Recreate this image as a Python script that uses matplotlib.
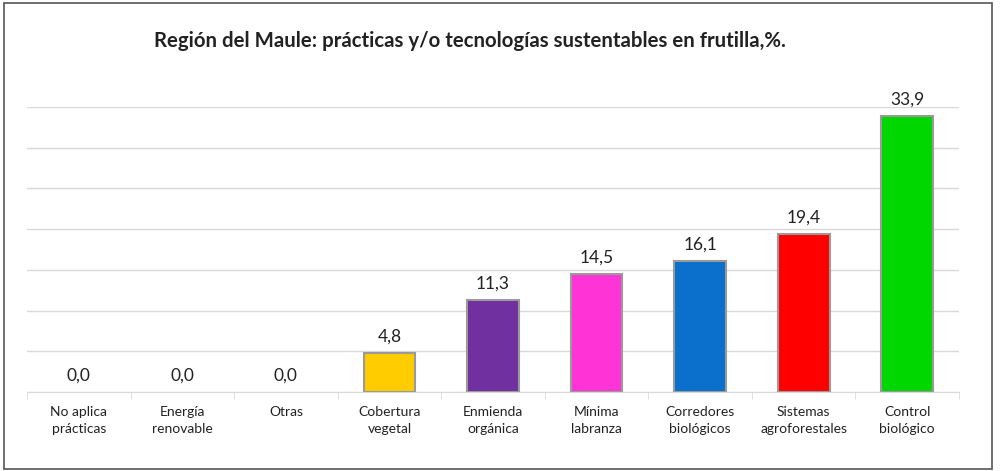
import matplotlib.pyplot as plt
from matplotlib.patches import Rectangle
import numpy as np

# Datos del gráfico
categorias = ["No aplica\nprácticas", "Energía\nrenovable", "Otras", "Cobertura\nvegetal",
              "Enmienda\norgánica", "Mínima\nlabranza", "Corredores\nbiológicos",
              "Sistemas\nagroforestales", "Control\nbiológico"]
valores = [0.0, 0.0, 0.0, 4.8, 11.3, 14.5, 16.1, 19.4, 33.9]
colores = ["#FFCC00", "#FFCC00", "#FFCC00", "#FFCC00", "#7030A0", "#FF33D6",
           "#0A70CC", "#FF0000", "#00D600"]
titulo = "Región del Maule: prácticas y/o tecnologías sustentables en frutilla,%."

plt.rcParams['font.family'] = ['Lato', 'DejaVu Sans']

fig = plt.figure(figsize=(10, 4.71), dpi=100)
ax = fig.add_axes([0.027, 0.1677, 0.932, 0.605])

x = np.arange(len(categorias))
# barras con valor cero no se dibujan (sin borde)
bordes = ["#9a9a9a" if v > 0 else "none" for v in valores]
ax.bar(x, valores, width=0.5, color=colores, edgecolor=bordes, linewidth=1.5, zorder=3)

# Etiquetas de valores
for xi, v in zip(x, valores):
    ax.text(xi, v + 1.0, f"{v:.1f}".replace(".", ","), ha="center", va="bottom",
            fontsize=12.5, color="#222222", clip_on=False)

ax.set_xlim(-0.5, len(categorias) - 0.5)
ax.set_ylim(0, 35)
ax.set_yticks(np.arange(0, 36, 5))
ax.yaxis.grid(True, color="#d9d9d9", linewidth=1)
ax.set_axisbelow(True)
ax.tick_params(axis="y", left=False, labelleft=False)

ax.set_xticks(x)
ax.set_xticklabels(categorias, fontsize=10, color="#222222", linespacing=1.5)
ax.tick_params(axis="x", length=0, pad=10)
ax.set_xticks(np.arange(-0.5, len(categorias), 1), minor=True)
ax.tick_params(axis="x", which="minor", length=5, color="#d9d9d9")

for s in ["top", "right", "left"]:
    ax.spines[s].set_visible(False)
ax.spines["bottom"].set_color("#d9d9d9")

fig.text(0.47, 0.913, titulo, ha="center", va="center", fontsize=14.7,
         fontweight="bold", color="#222222")

# Marco exterior
fig.add_artist(Rectangle((0.004, 0.004), 0.988, 0.99, transform=fig.transFigure,
                         fill=False, edgecolor="#555555", linewidth=1.2))

fig.savefig("out.png", dpi=100)
